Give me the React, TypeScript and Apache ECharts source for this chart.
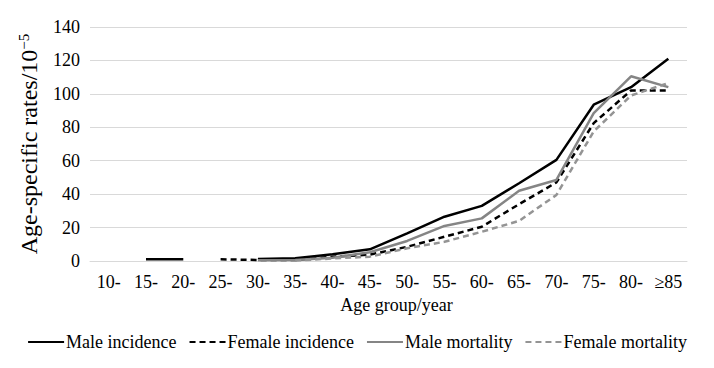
import React, { useEffect, useRef } from "react";
import * as echarts from "echarts";

const categories = ["10-", "15-", "20-", "25-", "30-", "35-", "40-", "45-", "50-", "55-", "60-", "65-", "70-", "75-", "80-", "≥85"];
const maleIncidence = [null, 1, 1, null, 1.2, 1.6, 4, 7, 16.5, 26.5, 33, 46.5, 60.5, 93.5, 104, 121];
const femaleIncidence = [null, null, null, 1, 0.6, 0.6, 2.5, 3.8, 8.5, 14.5, 20.5, 34, 47, 82.5, 102, 102];
const maleMortality = [null, null, null, null, 0.4, 0.6, 2, 5.2, 12, 21, 25.5, 42, 48.5, 88.5, 110.5, 104];
const femaleMortality = [null, null, null, null, null, 0.3, 1.5, 2.6, 7.6, 11.5, 17.5, 24, 39.5, 77.5, 99, 106.5];
const yTicks = { min: 0, max: 140, interval: 20 };

const FONT = "Liberation Serif";

export default function App() {
  const ref = useRef<HTMLDivElement>(null);
  useEffect(() => {
    if (!ref.current) return;
    const chart = echarts.init(ref.current, null, { renderer: "svg" });
    const mk = (name: string, data: (number | null)[], color: string, dashed: boolean) => ({
      name,
      type: "line",
      data,
      symbol: "none",
      connectNulls: false,
      lineStyle: { color, width: 2.5, type: dashed ? [6, 4] : "solid" },
      itemStyle: { color },
    });
    chart.setOption({
      animation: false,
      backgroundColor: "#fff",
      textStyle: { fontFamily: FONT, color: "#000" },
      grid: { left: 90, right: 27, top: 27, bottom: 107 },
      legend: {
        bottom: 12,
        left: "center",
        itemWidth: 36,
        itemHeight: 10,
        itemGap: 12,
        itemStyle: { opacity: 0 },
        textStyle: { fontFamily: FONT, fontSize: 18, color: "#000", padding: [0, 0, 0, -3] },
        data: ["Male incidence", "Female incidence", "Male mortality", "Female mortality"],
      },
      xAxis: {
        type: "category",
        data: categories,
        boundaryGap: true,
        axisLine: { lineStyle: { color: "#d9d9d9", width: 1 } },
        axisTick: { show: false },
        axisLabel: { fontFamily: FONT, fontSize: 18, color: "#000", margin: 12, interval: 0 },
        name: "Age group/year",
        nameLocation: "middle",
        nameGap: 31,
        nameTextStyle: { fontFamily: FONT, fontSize: 18, color: "#000", padding: [0, 0, 0, 16] },
      },
      yAxis: {
        type: "value",
        min: yTicks.min,
        max: yTicks.max,
        interval: yTicks.interval,
        axisLine: { show: false },
        axisTick: { show: false },
        splitLine: { lineStyle: { color: "#d9d9d9", width: 1 } },
        axisLabel: { fontFamily: FONT, fontSize: 18, color: "#000", margin: 10 },
        name: "Age-specific rates/10{sup|−5}",
        nameLocation: "middle",
        nameGap: 49,
        nameTextStyle: {
          fontFamily: FONT,
          fontSize: 24,
          color: "#000",
          rich: {
            sup: { fontFamily: FONT, fontSize: 15, color: "#000", verticalAlign: "top", padding: [0, 0, 10, 0] },
          },
        },
      },
      series: [
        mk("Male incidence", maleIncidence, "#000000", false),
        mk("Female incidence", femaleIncidence, "#000000", true),
        mk("Male mortality", maleMortality, "#858585", false),
        mk("Female mortality", femaleMortality, "#949494", true),
      ],
    });
    return () => chart.dispose();
  }, []);
  return <div ref={ref} style={{ width: 714, height: 368, position: "absolute", left: 0, top: 0 }} />;
}
